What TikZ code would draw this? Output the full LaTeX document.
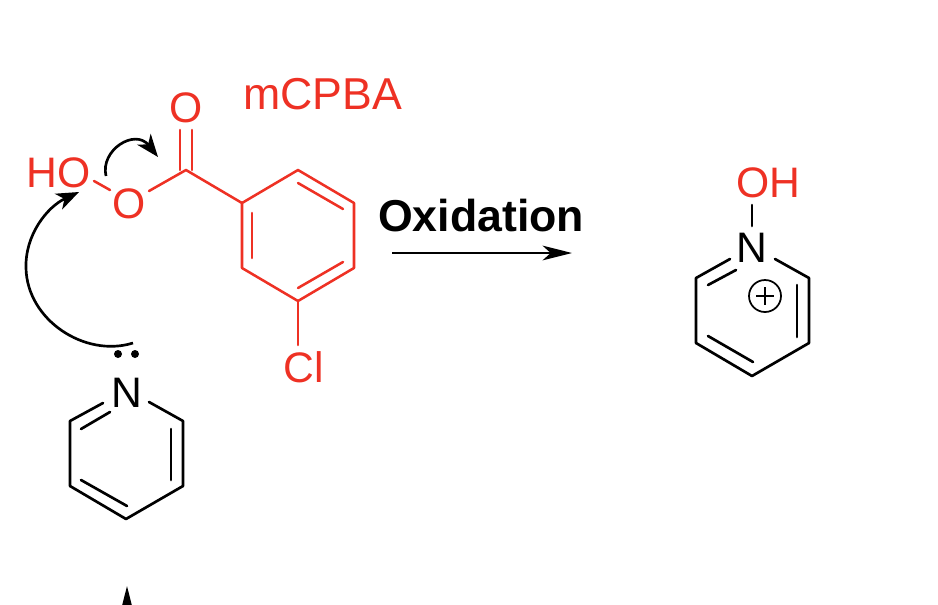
\documentclass[tikz,border=0pt]{standalone}
\usepackage{fontspec}
\setmainfont{Liberation Sans}
\usetikzlibrary{arrows.meta}
\definecolor{acidred}{HTML}{EE3124}

\begin{document}
\begin{tikzpicture}[x=0.75pt, y=-0.75pt,
        atom/.style={inner sep=0pt, font=\fontsize{32}{32}\selectfont},
        redatom/.style={atom, text=acidred},
        bond/.style={line width=2pt, line cap=round, line join=round},
        redbond/.style={bond, draw=acidred, line width=1.9pt},
        push/.style={line width=2pt, -{Stealth[length=17pt, width=13pt, inset=5pt]}},
        label/.style={inner sep=0pt, font=\fontsize{33.5}{33.5}\selectfont}]
        \useasboundingbox (0, 0) rectangle (938, 604);
        \clip (0, 0) rectangle (938, 604);

        % peracid
        \node[redatom] (O1) at (186, 108) {O};
        \node[redatom] (HO) at (58.5, 173) {HO};
        \node[redatom] (O2) at (129, 204) {O};
        \node[redatom] (Cl) at (303.5, 367) {Cl};
        \node[label, text=acidred] (mCPBA) at (322.5, 94) {mCPBA};

        \coordinate (C1) at (186, 170);
        \coordinate (R1) at (242, 203);
        \coordinate (R2) at (298, 170);
        \coordinate (R3) at (354, 203);
        \coordinate (R4) at (354, 268);
        \coordinate (R5) at (298, 301);
        \coordinate (R6) at (242, 268);

        \coordinate (C1a) at (180, 170);
        \coordinate (C1b) at (192, 170);
        \coordinate (O1a) at (180, 130);
        \coordinate (O1b) at (192, 130);
        \coordinate (HOe) at (94, 181);
        \coordinate (O2w) at (110, 190);
        \coordinate (O2e) at (149, 191);
        \coordinate (ClN) at (298, 345);

        \draw[redbond] (C1a) -- (O1a);
        \draw[redbond] (C1b) -- (O1b);
        \draw[redbond] (HOe) -- (O2w);
        \draw[redbond] (O2e) -- (C1) -- (R1);
        \draw[redbond] (R1) -- (R2) -- (R3) -- (R4) -- (R5) -- (R6) -- cycle;
        \draw[redbond] (R5) -- (ClN);

        \coordinate (I1) at (252, 213);
        \coordinate (I2) at (252, 258);
        \coordinate (I3) at (298, 183);
        \coordinate (I4) at (343, 209);
        \coordinate (I5) at (343, 262);
        \coordinate (I6) at (298, 288);
        \draw[redbond] (I1) -- (I2);
        \draw[redbond] (I3) -- (I4);
        \draw[redbond] (I5) -- (I6);

        % pyridine
        \node[atom] (N1) at (126.5, 393) {N};
        \coordinate (A1) at (70, 421);
        \coordinate (A2) at (70, 486);
        \coordinate (A3) at (126, 519);
        \coordinate (A4) at (183, 486);
        \coordinate (A5) at (183, 421);
        \coordinate (A1n) at (103, 403);
        \coordinate (A5n) at (149, 402);

        \draw[bond] (A1n) -- (A1) -- (A2) -- (A3) -- (A4) -- (A5) -- (A5n);

        \coordinate (B1) at (81, 429);
        \coordinate (B2) at (110, 412);
        \coordinate (B3) at (81, 480);
        \coordinate (B4) at (127, 506);
        \coordinate (B5) at (171, 429);
        \coordinate (B6) at (171, 480);
        \draw[bond] (B1) -- (B2);
        \draw[bond] (B3) -- (B4);
        \draw[bond] (B5) -- (B6);

        % lone pair
        \node[shape=circle, fill=black, minimum size=8pt, inner sep=0pt, scale=0.75] (P1) at (118, 354) {};
        \node[shape=circle, fill=black, minimum size=8pt, inner sep=0pt, scale=0.75] (P2) at (135, 354) {};

        % electron pushing
        \coordinate (S1) at (133, 343);
        \coordinate (T1) at (79, 192);
        \coordinate (S2) at (106, 176);
        \coordinate (T2) at (158, 157);
        \draw[push] (S1) .. controls (85, 358) and (27, 320) .. (26, 268) .. controls (25, 235) and (47, 207) .. (T1);
        \draw[push] (S2) .. controls (100, 150) and (135, 128) .. (T2);

        % reaction arrow
        \node[label, font=\fontsize{33.5}{33.5}\selectfont\bfseries] (Ox) at (481, 216) {Oxidation};
        \coordinate (X1) at (392, 253);
        \coordinate (X2) at (572, 253);
        \draw[line width=2pt, -{Stealth[length=22pt, width=11pt, inset=6pt]}] (X1) -- (X2);

        % product
        \node[atom] (N2) at (752, 248) {N};
        \node[redatom] (OH) at (768, 183) {OH};
        \coordinate (OHs) at (752, 205);
        \coordinate (N2n) at (752, 226);
        \draw[bond] (OHs) -- (N2n);

        \coordinate (D1) at (696, 278);
        \coordinate (D2) at (696, 343);
        \coordinate (D3) at (752, 376);
        \coordinate (D4) at (809, 343);
        \coordinate (D5) at (809, 278);
        \coordinate (D1n) at (730, 259);
        \coordinate (D5n) at (775, 259);
        \draw[bond] (D1n) -- (D1) -- (D2) -- (D3) -- (D4) -- (D5) -- (D5n);

        \coordinate (E1) at (708, 285);
        \coordinate (E2) at (736, 270);
        \coordinate (E3) at (708, 336);
        \coordinate (E4) at (753, 362);
        \coordinate (E5) at (797, 285);
        \coordinate (E6) at (797, 337);
        \draw[bond] (E1) -- (E2);
        \draw[bond] (E3) -- (E4);
        \draw[bond] (E5) -- (E6);

        \node[shape=circle, draw=black, line width=1.3pt, minimum size=24pt, inner sep=0pt] (Plus) at (765, 296) {};
        \draw[line width=1.3pt] (Plus.center) ++(-9, 0) -- ++(18, 0);
        \draw[line width=1.3pt] (Plus.center) ++(0, -9) -- ++(0, 18);

        % next arrow, cut off by the page
        \coordinate (Y1) at (127, 660);
        \coordinate (Y2) at (127, 586);
        \draw[line width=2pt, -{Stealth[length=26pt, width=13pt, inset=7pt]}] (Y1) -- (Y2);
    \end{tikzpicture}
\end{document}
